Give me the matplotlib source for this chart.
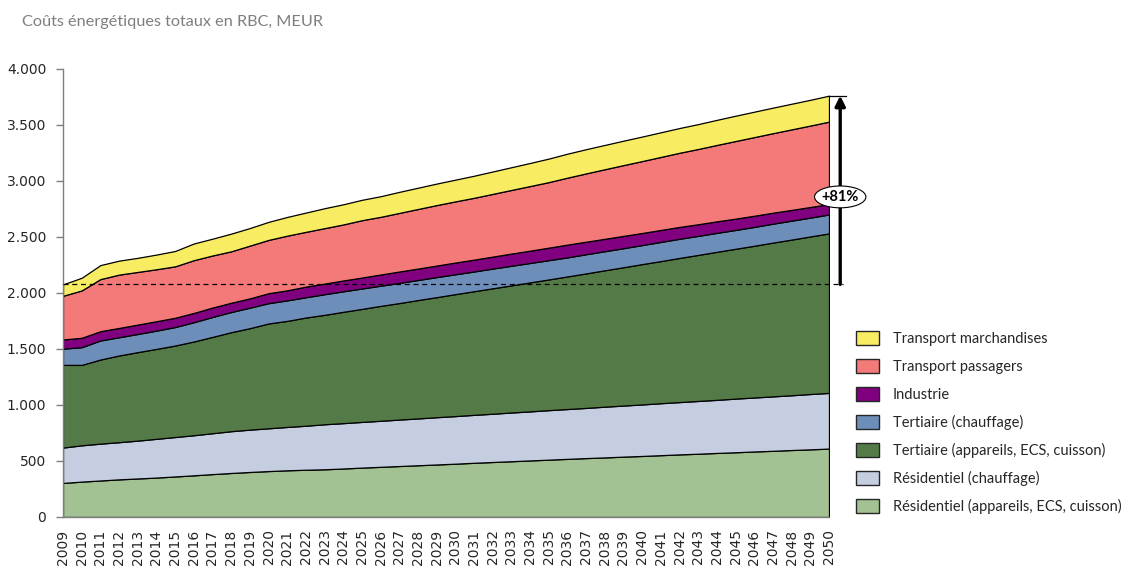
import matplotlib
matplotlib.use("Agg")
import matplotlib.pyplot as plt
from matplotlib.patches import Patch, Ellipse
from matplotlib.ticker import FuncFormatter, MultipleLocator

years = list(range(2009, 2051))

res_appareils = [304, 316, 326, 336, 344, 352, 362, 372, 383, 393, 402, 410, 417, 422,
                 426, 433, 441, 448, 455, 462, 469, 476, 484, 491, 498, 505, 512, 519,
                 526, 532, 539, 545, 552, 559, 565, 572, 578, 585, 591, 598, 604, 611]
res_chauffage = [316, 324, 329, 332, 338, 346, 352, 358, 365, 373, 378, 382, 387, 393,
                 402, 405, 408, 411, 415, 418, 422, 425, 428, 431, 435, 438, 442, 445,
                 448, 453, 456, 460, 464, 467, 471, 474, 479, 482, 486, 489, 494, 497]
ter_appareils = [738, 718, 751, 774, 790, 803, 817, 837, 860, 884, 906, 936, 947, 966,
                 977, 994, 1009, 1026, 1040, 1057, 1072, 1089, 1104, 1120, 1135, 1152, 1167, 1184,
                 1201, 1218, 1235, 1253, 1269, 1287, 1304, 1322, 1338, 1355, 1373, 1390, 1407, 1424]
ter_chauffage = [145, 158, 170, 163, 162, 163, 165, 172, 178, 180, 183, 181, 183, 181,
                 184, 183, 182, 180, 180, 179, 179, 177, 176, 176, 175, 173, 172, 170,
                 171, 170, 170, 170, 171, 171, 170, 169, 168, 168, 169, 169, 168, 169]
industrie = [82, 84, 83, 83, 84, 84, 83, 83, 84, 83, 83, 89, 90, 95,
             95, 97, 98, 100, 102, 102, 103, 105, 106, 107, 109, 110, 112, 114,
             112, 111, 110, 108, 107, 106, 104, 103, 101, 100, 98, 96, 95, 93]
transport_pass = [390, 423, 465, 476, 470, 464, 459, 471, 465, 459, 471, 476, 488, 489,
                  495, 500, 512, 515, 523, 532, 540, 546, 552, 560, 568, 577, 585, 598,
                  610, 621, 632, 642, 652, 662, 672, 682, 693, 702, 710, 719, 727, 736]
transport_march = [102, 113, 125, 125, 126, 131, 137, 149, 150, 158, 157, 161, 167, 172,
                   178, 180, 182, 184, 188, 190, 192, 194, 197, 200, 203, 206, 210, 214,
                   216, 217, 218, 219, 220, 221, 222, 224, 226, 227, 228, 229, 230, 232]

labels = ["Résidentiel (appareils, ECS, cuisson)",
          "Résidentiel (chauffage)",
          "Tertiaire (appareils, ECS, cuisson)",
          "Tertiaire (chauffage)",
          "Industrie",
          "Transport passagers",
          "Transport marchandises"]
colors = ["#A3C293", "#C4CEE0", "#547B47", "#6E8EBA", "#800080", "#F47A7A", "#F8EC62"]
series = [res_appareils, res_chauffage, ter_appareils, ter_chauffage,
          industrie, transport_pass, transport_march]

title = "Coûts énergétiques totaux en RBC, MEUR"

fig = plt.figure(figsize=(11.39, 5.69), dpi=100)
ax = fig.add_axes([63 / 1139, 1 - 517 / 569, 766 / 1139, 448 / 569])

ax.stackplot(years, *series, colors=colors, edgecolor="black", linewidth=0.9)

total = [sum(v) for v in zip(*series)]
start, end = total[0], total[-1]
pct = round((end / start - 1) * 100)

# reference level and growth arrow
x_arrow = 2050.6
ax.plot([years[0], x_arrow + 0.15], [start, start], color="black", lw=0.9,
        ls=(0, (4, 3)), clip_on=False, zorder=5)
ax.plot([years[-1], x_arrow + 0.3], [end, end], color="black", lw=0.9,
        clip_on=False, zorder=5)
ax.annotate("", xy=(x_arrow, end), xytext=(x_arrow, start),
            arrowprops=dict(arrowstyle="-|>", color="black", lw=2.4,
                            mutation_scale=15, shrinkA=0, shrinkB=0),
            annotation_clip=False, zorder=6)
y_lab = 2858
ell = Ellipse((x_arrow, y_lab), width=2.75, height=195, facecolor="white",
              edgecolor="black", lw=0.8, clip_on=False, zorder=7)
ax.add_patch(ell)
ax.text(x_arrow, y_lab, f"+{pct}%", ha="center", va="center", fontsize=10.5,
        fontweight="bold", family="Lato", zorder=8, clip_on=False)

ax.set_xlim(years[0], years[-1])
ax.set_ylim(0, 4000)
ax.yaxis.set_major_locator(MultipleLocator(500))
ax.yaxis.set_major_formatter(FuncFormatter(lambda v, p: f"{v:,.0f}".replace(",", ".")))
ax.set_xticks(years)
ax.set_xticklabels([str(y) for y in years], rotation=90, fontsize=10)

for s in ["top", "right"]:
    ax.spines[s].set_visible(False)
for s in ["left", "bottom"]:
    ax.spines[s].set_color("#7f7f7f")
    ax.spines[s].set_linewidth(1.0)
ax.tick_params(axis="y", length=5, width=1, color="#7f7f7f", pad=7,
               labelsize=10, labelcolor="#262626")
ax.tick_params(axis="x", length=0, pad=9, labelcolor="#262626")

handles = [Patch(facecolor=c, edgecolor="#262626", lw=1.0, label=l)
           for c, l in zip(colors, labels)][::-1]
fig.legend(handles=handles, loc="upper left", bbox_to_anchor=(850 / 1139, 1 - 325 / 569),
           frameon=False, prop={"family": "Lato", "size": 10.5},
           handlelength=1.6, handleheight=1.15, handletextpad=0.95, labelspacing=0.88,
           borderaxespad=0, labelcolor="#262626")

fig.text(22 / 1139, 1 - 22 / 569, title, fontsize=11.7, family="Lato",
         color="#7f7f7f", va="center", ha="left")

fig.savefig("out.png", dpi=100)
